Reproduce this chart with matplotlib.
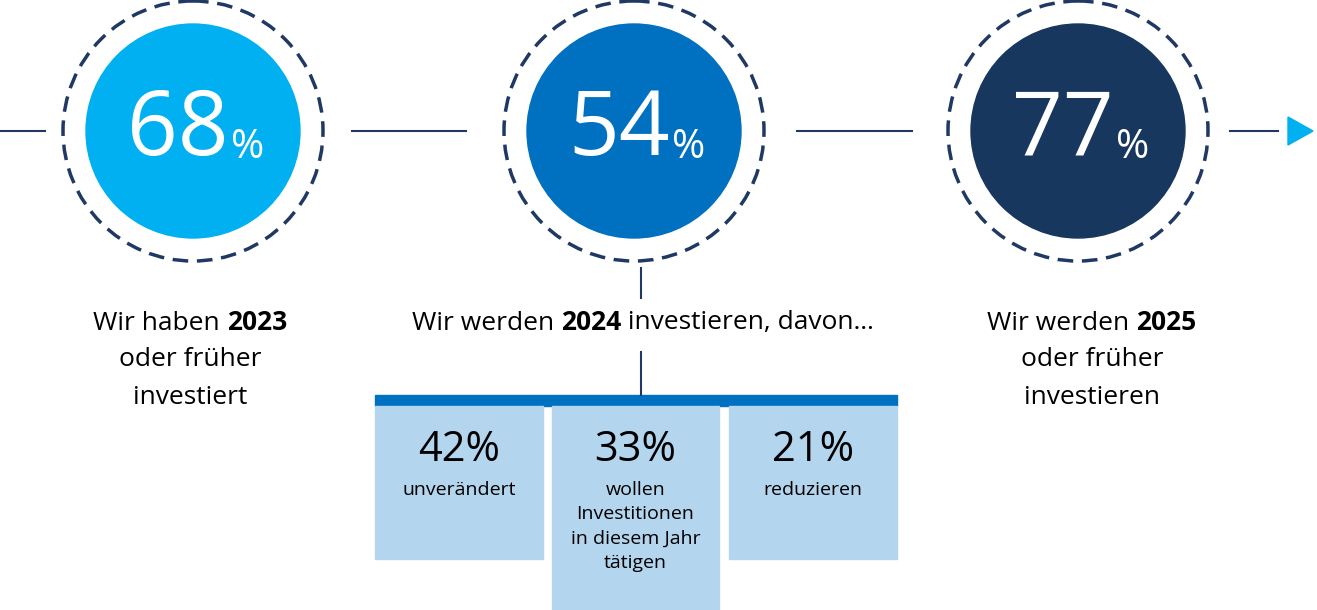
import matplotlib
matplotlib.use("Agg")
import matplotlib.pyplot as plt
from matplotlib.patches import Circle, Rectangle, Polygon

FONT = "Open Sans"
main_values = [68, 54, 77]
main_colors = ["#00B0F0", "#0070C0", "#17375E"]
captions = [
    [[("Wir haben ", "normal"), ("2023", "bold")], [("oder früher", "normal")], [("investiert", "normal")]],
    [[("Wir werden ", "normal"), ("2024", "bold"), (" investieren, davon…", "normal")]],
    [[("Wir werden ", "normal"), ("2025", "bold")], [("oder früher", "normal")], [("investieren", "normal")]],
]
sub_values = [42, 33, 21]
sub_labels = ["unverändert", "wollen\nInvestitionen\nin diesem Jahr\ntätigen", "reduzieren"]

fig = plt.figure(figsize=(13.17, 6.10), dpi=100)
ax = fig.add_axes([0, 0, 1, 1])
ax.set_xlim(0, 1317); ax.set_ylim(610, 0); ax.axis("off")

navy = "#1F3864"
centers = [193, 634, 1078]
# connector lines
for x0, x1 in [(0, 45), (352, 466), (797, 912), (1230, 1278)]:
    ax.plot([x0, x1], [131, 131], color=navy, lw=1.5)
ax.add_patch(Polygon([[1288, 117], [1288, 145], [1313, 131]], color="#00B0F0"))

for cx, v, c in zip(centers, main_values, main_colors):
    ax.add_patch(Circle((cx, 131), 107, color=c, zorder=2))
    ax.add_patch(Circle((cx, 131), 130, fill=False, ec=navy, lw=2.5, ls=(0, (4.5, 2.5)), zorder=2))
    ax.text(cx + 36, 132, str(v), fontsize=64, color="white", family=FONT, ha="right", va="center", zorder=3)
    ax.text(cx + 38, 148, "%", fontsize=29, color="white", family=FONT, ha="left", va="center", zorder=3)

fig.canvas.draw()
r = fig.canvas.get_renderer()

def mixed_line(cx, y, parts, size=19):
    widths = []
    for s, w in parts:
        t = ax.text(0, 0, s, fontsize=size, fontweight=w, family=FONT)
        widths.append(t.get_window_extent(r).width)
        t.remove()
    x = cx - sum(widths) / 2
    for (s, w), wd in zip(parts, widths):
        ax.text(x, y, s, fontsize=size, fontweight=w, family=FONT, va="center", ha="left", color="black")
        x += wd

for cx, cap in zip([190, 643, 1092], captions):
    for i, line in enumerate(cap):
        mixed_line(cx, 323 + 37 * i, line)

ax.plot([641, 641], [268, 298], color=navy, lw=1.5)
ax.plot([641, 641], [352, 395], color=navy, lw=1.5)
ax.add_patch(Rectangle((375, 395), 522, 11, color="#0070C0"))
boxes = [(375, 543, 559), (552, 719, 610), (729, 897, 559)]
for (x0, x1, y1), v, lab in zip(boxes, sub_values, sub_labels):
    ax.add_patch(Rectangle((x0, 406), x1 - x0, y1 - 406, color="#B4D5EE"))
    xc = (x0 + x1) / 2
    ax.text(xc, 450, f"{v}%", fontsize=30, family=FONT, ha="center", va="center")
    ax.text(xc, 481, lab, fontsize=14, family=FONT, ha="center", va="top", linespacing=1.45)

fig.savefig("out.png", dpi=100)
